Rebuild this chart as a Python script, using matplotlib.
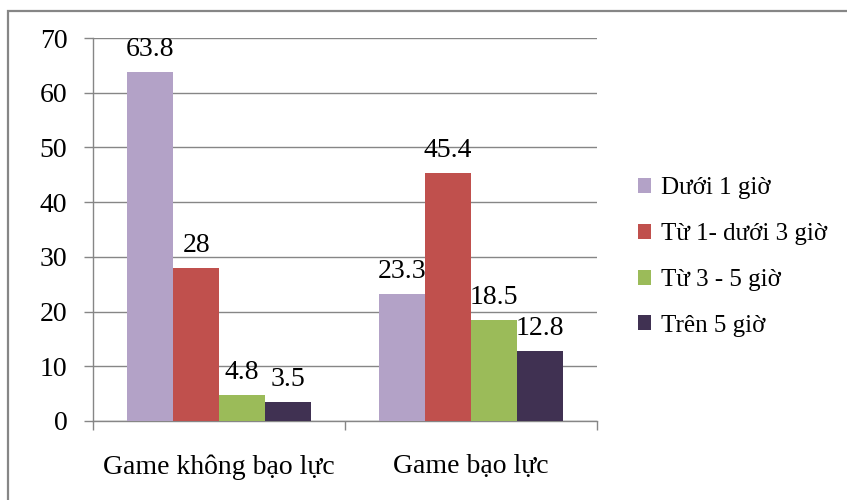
import numpy as np
import matplotlib
matplotlib.use("Agg")
import matplotlib.pyplot as plt
from matplotlib.patches import Rectangle

categories = ["Game không bạo lực", "Game bạo lực"]
series_names = ["Dưới 1 giờ", "Từ 1- dưới 3 giờ", "Từ 3 - 5 giờ", "Trên 5 giờ"]
duoi_1_gio = [63.8, 23.3]
tu_1_3_gio = [28, 45.4]
tu_3_5_gio = [4.8, 18.5]
tren_5_gio = [3.5, 12.8]
value_labels = [["63.8", "23.3"], ["28", "45.4"], ["4.8", "18.5"], ["3.5", "12.8"]]
colors = ["#B3A2C7", "#C0504D", "#9BBB59", "#403152"]

series = [duoi_1_gio, tu_1_3_gio, tu_3_5_gio, tren_5_gio]

plt.rcParams["font.family"] = ["Liberation Serif", "DejaVu Serif"]

fig = plt.figure(figsize=(8.47, 5.0), dpi=100)
W, H = 847, 500
ax = fig.add_axes([93 / W, 1 - 421 / H, (597 - 93) / W, (421 - 38) / H])

# chart frame
fig.patches.append(Rectangle((8 / W, -0.1), 1.2, 1 - 11 / H + 0.1,
                             transform=fig.transFigure, fill=False,
                             edgecolor="#868686", linewidth=1.6, zorder=0))

n = len(series)
gap = 1.5
bw = 1.0 / (n + gap)
x = np.arange(len(categories))
for i, (vals, col, name) in enumerate(zip(series, colors, series_names)):
    pos = x - 0.5 + bw * (gap / 2 + i + 0.5)
    bars = ax.bar(pos, vals, width=bw, color=col, label=name, zorder=3)
    for b, v, lab in zip(bars, vals, value_labels[i]):
        ax.annotate(lab, (b.get_x() + b.get_width() / 2, v),
                    xytext=(0, 16), textcoords="offset points",
                    ha="center", va="center", fontsize=20, color="#000000")

ax.set_xlim(-0.5, len(categories) - 0.5)
ax.set_ylim(0, 70)
ax.set_yticks(np.arange(0, 71, 10))
ax.yaxis.grid(True, color="#868686", linewidth=1.0, zorder=0)
ax.set_axisbelow(True)

ax.set_xticks(x)
ax.set_xticklabels(categories, fontsize=20)
ax.set_xticks(np.arange(-0.5, len(categories), 1.0), minor=True)
ax.tick_params(axis="x", which="major", length=0, pad=24)
ax.tick_params(axis="x", which="minor", length=6.5, width=1.0, color="#868686", direction="out")
ax.tick_params(axis="y", length=6.5, width=1.0, color="#868686", direction="out",
               labelsize=20, pad=12)

for side in ["top", "right"]:
    ax.spines[side].set_visible(False)
for side in ["left", "bottom"]:
    ax.spines[side].set_color("#868686")
    ax.spines[side].set_linewidth(1.0)

handles, labels = ax.get_legend_handles_labels()
fig.legend(handles, labels, loc="center left", bbox_to_anchor=(615 / W, 1 - 257 / H),
           frameon=False, fontsize=18, handlelength=0.55, handleheight=0.55,
           handletextpad=0.4, labelspacing=0.95)

fig.savefig("out.png", dpi=100)
